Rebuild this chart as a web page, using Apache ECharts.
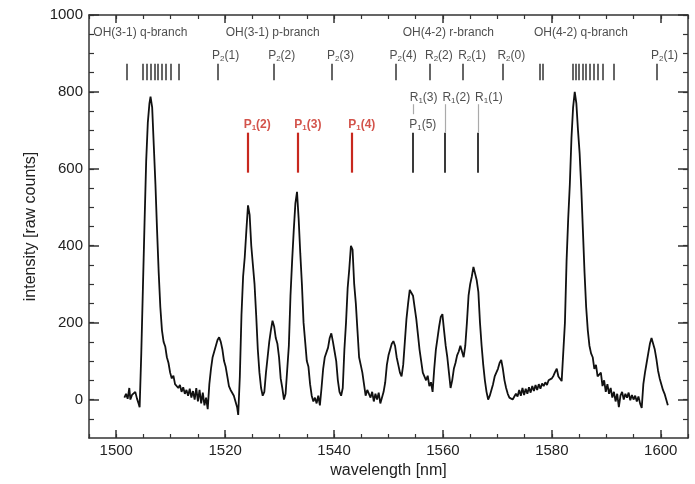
<!DOCTYPE html>
<html><head><meta charset="utf-8">
<script src="https://cdn.jsdelivr.net/npm/echarts@6/dist/echarts.min.js"></script>
<style>html,body{margin:0;padding:0;background:#fff}#c{width:695px;height:484px}</style>
</head><body><div id="c"></div>
<script>
// ---- spectrum ----
const wavelength = [
1501.5,1501.8,1502.1,1502.4,1502.6,1502.9,1503.2,1503.5,1503.8,1504.1,1504.3,1504.6,1504.9,1505.2,1505.5,1505.8,1506.1,1506.3,1506.6,1506.9,
1507.2,1507.5,1507.8,1508.1,1508.4,1508.7,1509.0,1509.3,1509.6,1509.9,1510.2,1510.5,1510.8,1511.1,1511.4,1511.7,1512.0,1512.3,1512.6,1512.9,
1513.2,1513.5,1513.8,1514.1,1514.4,1514.7,1515.0,1515.3,1515.6,1515.9,1516.2,1516.5,1516.8,1517.1,1517.4,1517.7,1518.0,1518.3,1518.6,1518.9,
1519.2,1519.5,1519.8,1520.1,1520.4,1520.7,1521.0,1521.3,1521.6,1521.9,1522.2,1522.4,1522.7,1523.0,1523.3,1523.6,1523.9,1524.2,1524.5,1524.8,
1525.1,1525.4,1525.7,1526.0,1526.3,1526.6,1526.9,1527.2,1527.5,1527.8,1528.1,1528.4,1528.7,1529.0,1529.3,1529.6,1529.9,1530.2,1530.5,1530.8,
1531.1,1531.4,1531.7,1532.0,1532.3,1532.6,1532.9,1533.2,1533.5,1533.8,1534.1,1534.4,1534.7,1535.0,1535.3,1535.6,1535.9,1536.2,1536.5,1536.8,
1537.1,1537.4,1537.7,1538.0,1538.3,1538.6,1538.9,1539.2,1539.5,1539.8,1540.1,1540.4,1540.7,1541.0,1541.3,1541.6,1541.9,1542.2,1542.5,1542.8,
1543.1,1543.4,1543.7,1544.0,1544.3,1544.6,1544.9,1545.2,1545.5,1545.8,1546.1,1546.4,1546.7,1547.0,1547.3,1547.6,1547.9,1548.2,1548.5,1548.8,
1549.1,1549.4,1549.7,1550.0,1550.3,1550.6,1550.9,1551.2,1551.5,1551.8,1552.1,1552.4,1552.7,1553.0,1553.3,1553.6,1553.9,1554.2,1554.5,1554.8,
1555.1,1555.4,1555.7,1556.0,1556.3,1556.6,1556.9,1557.2,1557.5,1557.8,1558.1,1558.4,1558.7,1559.0,1559.3,1559.6,1559.9,1560.2,1560.5,1560.8,
1561.1,1561.4,1561.7,1562.0,1562.3,1562.6,1562.9,1563.2,1563.5,1563.8,1564.1,1564.4,1564.7,1565.0,1565.3,1565.6,1565.9,1566.2,1566.5,1566.8,
1567.1,1567.4,1567.7,1568.0,1568.3,1568.6,1568.9,1569.2,1569.5,1569.8,1570.1,1570.4,1570.7,1571.0,1571.3,1571.6,1571.9,1572.2,1572.5,1572.8,
1573.1,1573.4,1573.7,1574.0,1574.3,1574.6,1574.9,1575.2,1575.5,1575.8,1576.1,1576.4,1576.7,1577.0,1577.3,1577.6,1577.9,1578.2,1578.5,1578.8,
1579.1,1579.4,1579.7,1580.0,1580.3,1580.6,1580.9,1581.2,1581.5,1581.8,1582.1,1582.4,1582.7,1583.0,1583.3,1583.6,1583.9,1584.2,1584.5,1584.8,
1585.1,1585.4,1585.7,1586.0,1586.3,1586.6,1586.9,1587.2,1587.5,1587.8,1588.1,1588.4,1588.7,1589.0,1589.3,1589.6,1589.9,1590.2,1590.5,1590.8,
1591.1,1591.4,1591.7,1592.0,1592.3,1592.6,1592.9,1593.2,1593.5,1593.8,1594.1,1594.4,1594.7,1595.0,1595.3,1595.6,1595.9,1596.2,1596.5,1596.8,
1597.1,1597.4,1597.7,1598.0,1598.3,1598.6,1598.9,1599.2,1599.5,1599.8,1600.1,1600.4,1600.7,1601.0,1601.3
];
const intensity = [
5,15,2,30,0,12,8,20,3,-10,-20,120,290,460,620,720,770,788,760,660,
560,440,330,240,180,150,138,110,95,70,55,62,40,45,30,38,20,32,15,25,
10,28,5,22,0,30,-5,25,-10,18,-15,5,-25,40,80,110,125,140,155,162,
150,130,100,85,60,35,25,30,10,15,-20,-40,60,220,320,370,440,505,480,400,
350,300,220,130,70,30,10,20,70,110,150,180,205,190,160,145,110,55,30,0,
15,20,140,270,360,440,510,540,470,380,300,200,150,100,85,40,10,-5,5,-10,
10,-15,30,80,110,112,135,160,172,150,125,100,50,20,10,30,130,200,290,340,
400,390,300,250,180,110,90,70,40,10,25,30,5,20,-5,15,0,18,-10,-8,
20,45,90,115,130,145,152,140,110,90,70,60,90,150,210,250,285,288,270,240,
210,170,130,100,70,65,50,62,35,45,20,80,130,160,190,215,222,180,140,110,
70,30,50,80,95,115,125,140,145,110,140,200,270,300,320,345,350,310,280,200,
140,90,50,20,0,10,25,40,60,70,80,95,103,80,50,30,15,5,10,0,
5,15,8,25,10,30,12,28,15,32,18,35,22,38,25,40,28,42,35,45,
38,50,45,55,62,72,80,60,55,48,45,200,360,470,560,680,760,800,770,700,
640,550,440,330,240,180,140,120,110,80,90,60,55,70,35,50,20,40,15,30,
5,20,-5,15,-20,10,20,0,15,5,18,-2,12,0,10,-5,8,-10,-22,40,
70,95,120,145,160,155,130,105,75,55,40,25,15,0,-15
];

// ---- axis ticks ----
const xTicks = [1500,1520,1540,1560,1580,1600];
const xMinorTicks = [1495,1500,1505,1510,1515,1520,1525,1530,1535,1540,1545,1550,1555,1560,1565,1570,1575,1580,1585,1590,1595,1600,1605];
const yTicks = [0,200,400,600,800,1000];
const yMinorTicks = [-50,0,50,100,150,200,250,300,350,400,450,500,550,600,650,700,750,800,850,900,950,1000];

// ---- annotations ----
const branchNames = ['OH(3-1) q-branch','OH(3-1) p-branch','OH(4-2) r-branch','OH(4-2) q-branch'];
const branchNameX = [1495.8,1520.1,1552.6,1576.7];
const branchNameY = 953;

// row of short ticks (transition positions)
const tickRowX = [1502.0,1504.9,1505.6,1506.3,1507.0,1507.7,1508.4,1509.1,1510.0,1511.4,
  1518.6,1528.9,1539.5,1551.4,1557.6,1563.7,1571.0,
  1577.8,1578.4,1583.8,1584.4,1585.0,1585.6,1586.3,1586.9,1587.7,1588.4,1589.3,1591.3,1599.2];
const tickRowY = [830,873];

const p2Labels = ['P_2(1)','P_2(2)','P_2(3)','P_2(4)','R_2(2)','R_2(1)','R_2(0)','P_2(1)'];
const p2LabelX = [1517.6,1527.9,1538.7,1550.2,1556.7,1562.8,1570.0,1598.2];
const p2LabelY = 893;

const r1Labels = ['R_1(3)','R_1(2)','R_1(1)'];
const r1LabelX = [1553.9,1559.9,1565.9];
const r1LabelY = 784;

const p1RedLabels = ['P_1(2)','P_1(3)','P_1(4)'];
const p1RedLabelX = [1523.4,1532.7,1542.6];
const p1RedLineX = [1524.2,1533.4,1543.3];
const p1GrayLabels = ['P_1(5)'];
const p1GrayLabelX = [1553.8];
const p1LabelY = 714;
const grayLineX = [1554.5,1560.4,1566.4];
const lowLineY = [590,694];
const connectorX = [1554.5,1560.4,1566.4];
const connectorY0 = [742,694,694];
const connectorY1 = [768,768,768];

const FONT = 'Liberation Sans, Arial, sans-serif';
const AX = '#333';
const XMIN = 1495, XMAX = 1605, YMIN = -100, YMAX = 1000;

function richText(s){
  const m = s.match(/^([A-Z])_(\d)(.*)$/);
  return '{m|' + m[1] + '}{s|' + m[2] + '}{m|' + m[3] + '}';
}
function richStyles(color, bold){
  return {
    m:{fontSize:12, color:color, fontWeight: bold?'bold':'normal', fontFamily:FONT, lineHeight:14, verticalAlign:'middle'},
    s:{fontSize:8, color:color, fontWeight: bold?'bold':'normal', fontFamily:FONT, lineHeight:8, verticalAlign:'bottom'}
  };
}
function vlines(xs, y0, y1, color, w){
  return xs.map((x,i)=>({coords:[[x, Array.isArray(y0)?y0[i]:y0],[x, Array.isArray(y1)?y1[i]:y1]], lineStyle:{color:color,width:w,opacity:1}}));
}
function labelSeries(texts, xs, y, color, bold){
  return {
    type:'scatter', symbolSize:0, silent:true, z:5,
    data: texts.map((t,i)=>({value:[xs[i], y], name:t})),
    label:{show:true, position:'right', distance:0,
      formatter:p=>richText(p.name), rich:richStyles(color,bold)}
  };
}

const xAxisBase = {type:'value', min:XMIN, max:XMAX, splitLine:{show:false}};
const yAxisBase = {type:'value', min:YMIN, max:YMAX, splitLine:{show:false}};
const plain = v => String(v);

const option = {
  animation:false,
  backgroundColor:'#fff',
  grid:{left:89, right:7, top:15, bottom:46},
  xAxis:[
    Object.assign({}, xAxisBase, {position:'bottom',
      name:'wavelength [nm]', nameLocation:'middle', nameGap:24,
      nameTextStyle:{fontSize:16, color:'#222', fontFamily:FONT},
      axisLine:{show:true, onZero:false, lineStyle:{color:AX, width:1.5}},
      axisTick:{show:true, inside:true, length:8, customValues:xTicks, lineStyle:{color:AX, width:1.5}},
      axisLabel:{show:true, customValues:xTicks, formatter:plain, margin:5, fontSize:15, color:'#222', fontFamily:FONT}}),
    Object.assign({}, xAxisBase, {position:'bottom',
      axisLine:{show:false, onZero:false}, axisLabel:{show:false},
      axisTick:{show:true, inside:true, length:4, customValues:xMinorTicks, lineStyle:{color:AX, width:1.2}}}),
    Object.assign({}, xAxisBase, {position:'top',
      axisLine:{show:true, onZero:false, lineStyle:{color:AX, width:1.5}}, axisLabel:{show:false},
      axisTick:{show:true, inside:true, length:8, customValues:xTicks, lineStyle:{color:AX, width:1.5}}}),
    Object.assign({}, xAxisBase, {position:'top',
      axisLine:{show:false, onZero:false}, axisLabel:{show:false},
      axisTick:{show:true, inside:true, length:4, customValues:xMinorTicks, lineStyle:{color:AX, width:1.2}}})
  ],
  yAxis:[
    Object.assign({}, yAxisBase, {position:'left',
      name:'intensity [raw counts]', nameLocation:'middle', nameGap:50,
      nameTextStyle:{fontSize:16, color:'#222', fontFamily:FONT},
      axisLine:{show:true, onZero:false, lineStyle:{color:AX, width:1.5}},
      axisTick:{show:true, inside:true, length:10, customValues:yTicks, lineStyle:{color:AX, width:1.5}},
      axisLabel:{show:true, customValues:yTicks, formatter:plain, margin:6, fontSize:15, color:'#222', fontFamily:FONT}}),
    Object.assign({}, yAxisBase, {position:'left',
      axisLine:{show:false, onZero:false}, axisLabel:{show:false},
      axisTick:{show:true, inside:true, length:5, customValues:yMinorTicks, lineStyle:{color:AX, width:1.2}}}),
    Object.assign({}, yAxisBase, {position:'right',
      axisLine:{show:true, onZero:false, lineStyle:{color:AX, width:1.5}}, axisLabel:{show:false},
      axisTick:{show:true, inside:true, length:10, customValues:yTicks, lineStyle:{color:AX, width:1.5}}}),
    Object.assign({}, yAxisBase, {position:'right',
      axisLine:{show:false, onZero:false}, axisLabel:{show:false},
      axisTick:{show:true, inside:true, length:5, customValues:yMinorTicks, lineStyle:{color:AX, width:1.2}}})
  ],
  series:[
    {type:'line', name:'spectrum', showSymbol:false, symbol:'none', smooth:false,
     data: wavelength.map((w,i)=>[w, intensity[i]]),
     lineStyle:{color:'#111', width:1.8}, z:3},
    {type:'lines', coordinateSystem:'cartesian2d', polyline:false, silent:true, z:4,
     lineStyle:{opacity:1},
     data: [].concat(
        vlines(tickRowX, tickRowY[0], tickRowY[1], '#333', 1.5),
        vlines(p1RedLineX, lowLineY[0], lowLineY[1], '#c8281e', 2.2),
        vlines(grayLineX, lowLineY[0], lowLineY[1], '#3a3a3a', 2),
        vlines(connectorX, connectorY0, connectorY1, '#aaaaaa', 1.2)
     )},
    {type:'scatter', symbolSize:0, silent:true, z:5,
     data: branchNames.map((t,i)=>({value:[branchNameX[i], branchNameY], name:t})),
     label:{show:true, position:'right', distance:0, formatter:p=>p.name,
       fontSize:12, color:'#222', fontFamily:FONT}},
    labelSeries(p2Labels, p2LabelX, p2LabelY, '#222', false),
    labelSeries(r1Labels, r1LabelX, r1LabelY, '#222', false),
    labelSeries(p1GrayLabels, p1GrayLabelX, p1LabelY, '#222', false),
    labelSeries(p1RedLabels, p1RedLabelX, p1LabelY, '#c8281e', true)
  ]
};
const chart = echarts.init(document.getElementById('c'), null, {renderer:'canvas'});
chart.setOption(option);
</script></body></html>
